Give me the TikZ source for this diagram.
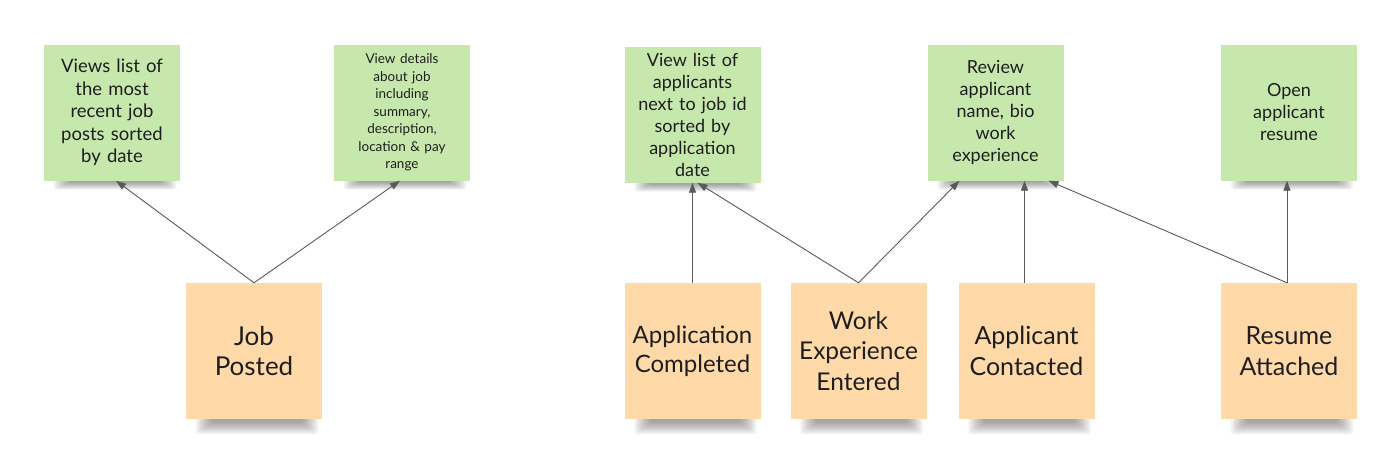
\documentclass[tikz,border=0pt]{standalone}
\usepackage{fontspec}
\setmainfont{Lato}
\usetikzlibrary{arrows.meta}
\definecolor{notegreen}{RGB}{199,232,172}
\definecolor{noteorange}{RGB}{255,217,168}
\definecolor{notetext}{RGB}{30,30,30}
\definecolor{linkgray}{RGB}{90,90,90}
\pgfdeclarelayer{shadowlayer}
\pgfsetlayers{shadowlayer,main}
% soft shadow under a note: #1 node name, #2 depth below the note (pt)
\newcommand\noteshade[2]{%
  \begin{pgfonlayer}{shadowlayer}
  \foreach \k in {0,...,7}{%
    \fill[black, opacity=0.05, rounded corners=3pt]
      ([xshift={10pt+\k*2.2pt}, yshift=2pt]#1.south west) rectangle
      ([xshift={-4pt-\k*2.2pt}, yshift={-(#2pt)*(1-\k/9)}]#1.south east);
  }%
  \end{pgfonlayer}%
}
\begin{document}
\begin{tikzpicture}[x=1pt,y=-1pt,
  note/.style={rectangle, minimum width=136pt, minimum height=136pt, inner sep=0pt,
    text width=132pt, align=center, text=notetext},
  greennote/.style={note, fill=notegreen},
  orangenote/.style={note, fill=noteorange},
  link/.style={draw=linkgray, line width=0.9pt, -{Triangle[length=10pt,width=7pt]}}
]
\begin{pgfonlayer}{shadowlayer}
\useasboundingbox[fill=white] (0,0) rectangle (1400,464);
\end{pgfonlayer}

% green notes
\node[greennote, font=\fontsize{18.5}{22.5}\selectfont] (g1) at (112,112.5) {Views list of\\the most\\recent job\\posts sorted\\by date};
\node[greennote, font=\fontsize{13.5}{17.5}\selectfont] (g2) at (402,112.5) {View details\\about job\\including\\summary,\\description,\\location \& pay\\range};
\node[greennote, font=\fontsize{18}{22}\selectfont] (g3) at (692.5,114.5) {View list of\\applicants\\next to job id\\sorted by\\application\\date};
\node[greennote, font=\fontsize{18}{22}\selectfont] (g4) at (995.5,112.5) {Review\\applicant\\name, bio\\work\\experience};
\node[greennote, font=\fontsize{18}{22}\selectfont] (g5) at (1289,112.5) {Open\\applicant\\resume};

% orange notes
\node[orangenote, font=\fontsize{26}{30}\selectfont] (o1) at (254,351) {Job\\Posted};
\node[orangenote, font=\fontsize{24}{28.5}\selectfont] (o2) at (692.5,351) {Application\\Completed};
\node[orangenote, font=\fontsize{24.5}{30.5}\selectfont] (o3) at (858.5,351) {Work\\Experience\\Entered};
\node[orangenote, font=\fontsize{25}{30.5}\selectfont] (o4) at (1026.5,351) {Applicant\\Contacted};
\node[orangenote, font=\fontsize{25}{30.5}\selectfont] (o5) at (1289,351) {Resume\\Attached};

% shadows
\foreach \n in {g1,g2,g3,g4,g5}{\noteshade{\n}{9}}
\foreach \n in {o1,o2,o3,o4,o5}{\noteshade{\n}{15}}

% connectors
\draw[link] (o1.north) -- ([xshift=4pt]g1.south);
\draw[link] (o1.north) -- ([xshift=-2pt]g2.south);
\draw[link] (o2.north) -- (g3.south);
\draw[link] (o3.north) -- ([xshift=5pt]g3.south);
\draw[link] (o3.north) -- ([xshift=-36pt]g4.south);
\draw[link] ([xshift=-2pt]o4.north) -- ([xshift=-2pt]o4.north |- g4.south);
\draw[link] ([xshift=-2pt]o5.north) -- ([xshift=53pt]g4.south);
\draw[link] ([xshift=-2pt]o5.north) -- ([xshift=-2pt]g5.south);
\end{tikzpicture}
\end{document}
